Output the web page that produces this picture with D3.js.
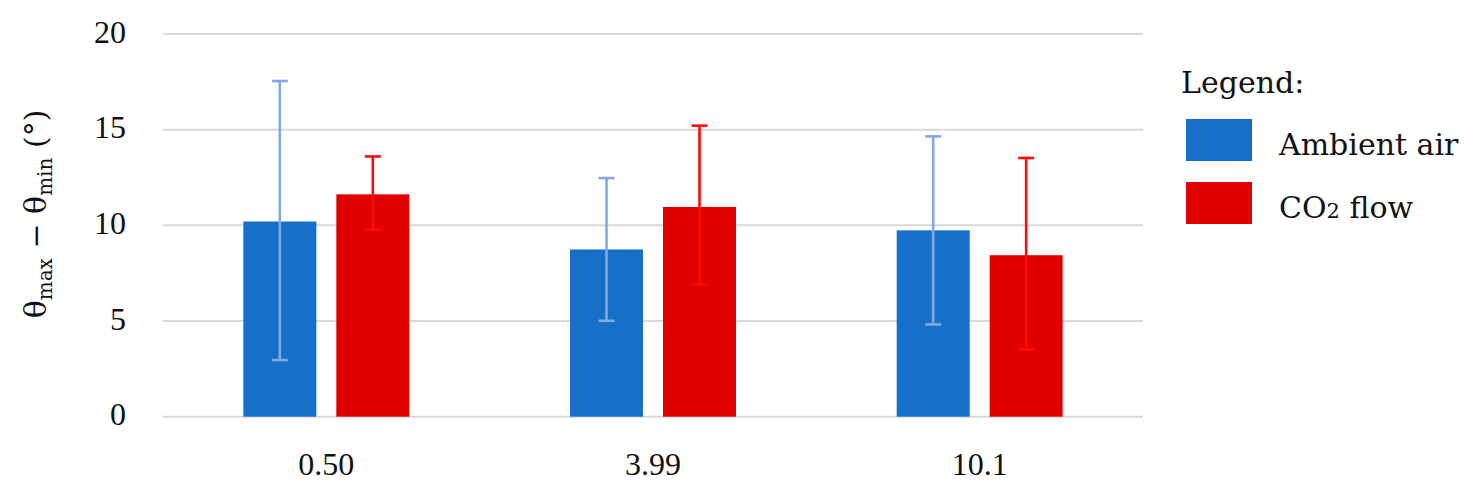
<!DOCTYPE html>
<html>
<head>
<meta charset="utf-8">
<script src="https://cdn.jsdelivr.net/npm/d3@7"></script>
<style>
  body { margin: 0; background: #fff; }
  text { fill: #111; }
</style>
</head>
<body>
<script>
var width = 1478;
var height = 489;

// data
var categories = ["0.50", "3.99", "10.1"];
var series = ["Ambient air", "CO2 flow"];
var ambientMean = [10.2, 8.74, 9.74];
var ambientLow = [2.96, 5.01, 4.82];
var ambientHigh = [17.54, 12.47, 14.65];
var co2Mean = [11.62, 10.96, 8.44];
var co2Low = [9.78, 6.91, 3.52];
var co2High = [13.6, 15.21, 13.52];
var yTicks = [0, 5, 10, 15, 20];

var barColor = { "Ambient air": "#1770c8", "CO2 flow": "#e00000" };
var errColor = { "Ambient air": "#82aae2", "CO2 flow": "#ff0a0a" };

var numFont = "'Liberation Serif', serif";
var wordFont = "'DejaVu Serif', serif";

var rows = [];
categories.forEach(function(c, i) {
  rows.push({ cat: c, s: "Ambient air", v: ambientMean[i], lo: ambientLow[i], hi: ambientHigh[i] });
  rows.push({ cat: c, s: "CO2 flow", v: co2Mean[i], lo: co2Low[i], hi: co2High[i] });
});

var svg = d3.select("body").append("svg")
  .attr("width", width)
  .attr("height", height);

var x0 = d3.scaleBand().domain(categories).range([163, 1143]).paddingInner(0).paddingOuter(0);
var x1 = d3.scaleBand().domain(series).range([0, x0.bandwidth()])
  .paddingInner(0.215).paddingOuter(0.864);
var y = d3.scaleLinear().domain([0, 20]).range([416.7, 34]);

// gridlines
svg.append("g").selectAll("line")
  .data(yTicks)
  .join("line")
  .attr("x1", 163).attr("x2", 1143)
  .attr("y1", d => y(d)).attr("y2", d => y(d))
  .attr("stroke", "#d9d9d9")
  .attr("stroke-width", 2);

// y axis labels
var yAxis = svg.append("g")
  .attr("transform", "translate(126,0)")
  .call(d3.axisLeft(y).tickValues(yTicks).tickSize(0).tickPadding(0));
yAxis.select(".domain").remove();
yAxis.selectAll("text")
  .attr("dy", "0.25em")
  .attr("fill", "#111")
  .style("font-size", "32px")
  .style("font-family", numFont);

// x axis labels
var xAxis = svg.append("g")
  .call(d3.axisBottom(x0).tickSize(0).tickPadding(0));
xAxis.select(".domain").remove();
xAxis.selectAll("text")
  .attr("y", 475)
  .attr("dy", 0)
  .attr("fill", "#111")
  .style("font-size", "32px")
  .style("font-family", numFont);

// bars
svg.append("g").selectAll("rect")
  .data(rows)
  .join("rect")
  .attr("x", d => x0(d.cat) + x1(d.s))
  .attr("width", x1.bandwidth())
  .attr("y", d => y(d.v))
  .attr("height", d => y(0) - y(d.v))
  .attr("fill", d => barColor[d.s]);

// error bars
var err = svg.append("g").selectAll("g")
  .data(rows)
  .join("g")
  .attr("stroke", d => errColor[d.s])
  .attr("stroke-width", 2.6);

err.append("line")
  .attr("x1", d => x0(d.cat) + x1(d.s) + x1.bandwidth() / 2)
  .attr("x2", d => x0(d.cat) + x1(d.s) + x1.bandwidth() / 2)
  .attr("y1", d => y(d.lo))
  .attr("y2", d => y(d.hi));

["lo", "hi"].forEach(function(k) {
  err.append("line")
    .attr("x1", d => x0(d.cat) + x1(d.s) + x1.bandwidth() / 2 - 8)
    .attr("x2", d => x0(d.cat) + x1(d.s) + x1.bandwidth() / 2 + 8)
    .attr("y1", d => y(d[k]))
    .attr("y2", d => y(d[k]));
});

// y title
var title = svg.append("text")
  .attr("transform", "translate(46,214) rotate(-90)")
  .attr("text-anchor", "middle")
  .style("font-family", wordFont)
  .style("font-size", "30px");
title.append("tspan").text("θ");
title.append("tspan").style("font-size", "20px").attr("dy", 6).text("max");
title.append("tspan").attr("dy", -6).text(" − θ");
title.append("tspan").style("font-size", "20px").attr("dy", 6).text("min");
title.append("tspan").attr("dy", -6).text(" (°)");

// legend
var legend = svg.append("g")
  .style("font-family", wordFont)
  .style("font-size", "30px");
legend.append("text")
  .attr("x", 1181).attr("y", 93)
  .text("Legend:");

var item = legend.selectAll("g.item")
  .data(series)
  .join("g")
  .attr("class", "item")
  .attr("transform", (d, i) => "translate(1186," + (119 + i * 63) + ")");

item.append("rect")
  .attr("width", 66).attr("height", 42)
  .attr("fill", d => barColor[d]);

item.append("text")
  .attr("x", 93).attr("y", 36)
  .each(function(d) {
    var t = d3.select(this);
    if (d === "CO2 flow") {
      t.append("tspan").text("CO");
      t.append("tspan").style("font-size", "21px").text("2");
      t.append("tspan").text(" flow");
    } else {
      t.text(d);
    }
  });
</script>
</body>
</html>
